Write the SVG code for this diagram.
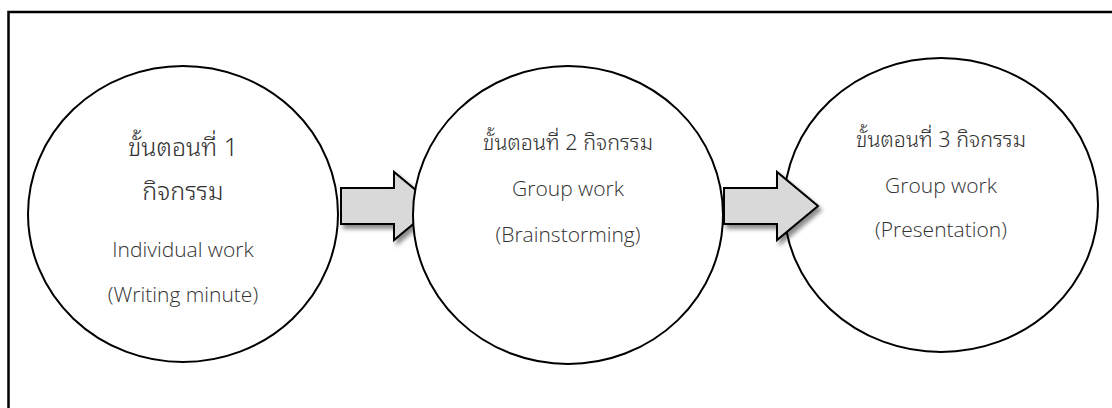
<svg xmlns="http://www.w3.org/2000/svg" width="1112" height="408" viewBox="0 0 1112 408">
<defs>
<filter id="shadow" x="-20%" y="-20%" width="150%" height="160%">
<feDropShadow dx="3" dy="4" stdDeviation="2.2" flood-color="#000" flood-opacity="0.45"/>
</filter>
</defs>
<style>
.frame{fill:none;stroke:#000;stroke-width:2.5}
.node{fill:#fff;stroke:#000;stroke-width:2}
.arrow{fill:#d9d9d9;stroke:#000;stroke-width:2;stroke-linejoin:miter;filter:url(#shadow)}
.th{font-family:"Noto Sans Thai Looped","Loma","Garuda","Noto Sans Thai","Noto Sans",sans-serif;font-weight:300;fill:#333;text-anchor:middle}
.en{font-family:"Open Sans","Noto Sans",sans-serif;font-weight:300;font-size:21px;fill:#333;text-anchor:middle}
</style>
<rect width="1112" height="408" fill="#fff"/>
<rect class="frame" x="8.5" y="12" width="1110" height="400"/>
<g id="connectors-back">
<polygon id="arrow1" class="arrow" points="341,188 394,188 394,172 435,206 394,240 394,224 341,224"/>
</g>
<g id="node1">
<ellipse class="node" cx="183" cy="214" rx="155" ry="148"/>
<text class="th" x="183" y="156" font-size="25">ขั้นตอนที่ 1</text>
<text class="th" x="183" y="200" font-size="25">กิจกรรม</text>
<text class="en" x="183" y="257" font-size="21.5">Individual work</text>
<text class="en" x="183" y="302" font-size="21.5">(Writing minute)</text>
</g>
<g id="node2">
<ellipse class="node" cx="568" cy="215" rx="155" ry="149"/>
<text class="th" x="568" y="150" font-size="21.5">ขั้นตอนที่ 2 กิจกรรม</text>
<text class="en" x="568" y="196">Group work</text>
<text class="en" x="568" y="242">(Brainstorming)</text>
</g>
<g id="node3">
<ellipse class="node" cx="941" cy="205" rx="157" ry="147"/>
<text class="th" x="941" y="147" font-size="21.5">ขั้นตอนที่ 3 กิจกรรม</text>
<text class="en" x="941" y="193">Group work</text>
<text class="en" x="941" y="237">(Presentation)</text>
</g>
<g id="connectors-front">
<polygon id="arrow2" class="arrow" points="724,188 777,188 777,172 818,206 777,240 777,224 724,224"/>
</g>
</svg>
